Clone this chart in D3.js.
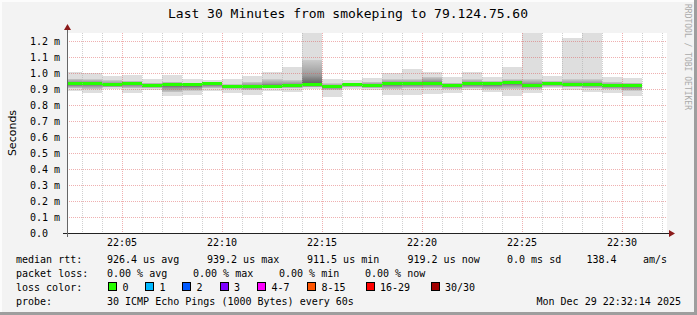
<!DOCTYPE html>
<html>
<head>
<meta charset="utf-8">
<script src="https://cdn.jsdelivr.net/npm/d3@7"></script>
<style>
body { margin: 0; background: #f3f3f3; }
svg text { font-family: "DejaVu Sans Mono", monospace; font-size: 10px; fill: #000; }
</style>
</head>
<body>
<svg id="chart"></svg>
<script>
/* global d3 */
// smokeping 30 min graph, one column per 60s step (end time of step)
const stepEnds = ["22:03","22:04","22:05","22:06","22:07","22:08","22:09","22:10","22:11","22:12",
                  "22:13","22:14","22:15","22:16","22:17","22:18","22:19","22:20","22:21","22:22",
                  "22:23","22:24","22:25","22:26","22:27","22:28","22:29","22:30","22:31"];
// ping rtt in ms
const rttMin = [0.890,0.873,0.900,0.877,0.894,0.854,0.860,0.885,0.875,0.860,0.885,0.880,0.898,0.852,0.900,
                0.892,0.860,0.860,0.867,0.873,0.892,0.879,0.854,0.873,0.904,0.892,0.879,0.873,0.854];
const rttLo  = [0.905,0.900,0.910,0.905,0.905,0.880,0.890,0.905,0.900,0.895,0.905,0.905,0.910,0.895,0.910,
                0.905,0.900,0.905,0.905,0.900,0.905,0.900,0.900,0.900,0.915,0.910,0.905,0.900,0.890];
const rttMedian = [0.930,0.933,0.922,0.933,0.920,0.927,0.923,0.931,0.913,0.912,0.914,0.920,0.922,0.9115,0.925,
                   0.921,0.931,0.931,0.933,0.919,0.930,0.930,0.9392,0.921,0.931,0.925,0.925,0.917,0.9192];
const rttHi  = [0.965,0.960,0.955,0.950,0.940,0.945,0.940,0.945,0.930,0.945,0.960,0.955,1.080,0.935,0.940,
                0.945,0.960,0.960,0.975,0.940,0.960,0.950,0.960,0.960,0.950,0.960,0.960,0.945,0.940];
const rttMax = [1.008,0.998,0.983,0.985,0.962,0.985,0.964,0.958,0.965,0.979,1.008,1.040,1.260,0.960,0.956,
                0.971,1.002,1.027,1.008,0.975,1.008,0.977,1.040,1.260,0.983,1.221,1.260,0.977,0.971];

const yTicks = [0,0.1,0.2,0.3,0.4,0.5,0.6,0.7,0.8,0.9,1.0,1.1,1.2];

const lossBins = ["0","1","2","3","4-7","8-15","16-29","30/30"];
const lossColors = ["#26ff00","#00b8ff","#0059ff","#7e00ff","#ff00ff","#ff5500","#ff0000","#a10000"];

const title = "Last 30 Minutes from smokeping to 79.124.75.60";
const rttStats = ["926.4 us avg","939.2 us max","911.5 us min","919.2 us now","0.0 ms sd","138.4","am/s"];
const lossStats = ["0.00 % avg","0.00 % max","0.00 % min","0.00 % now"];
const probeText = "30 ICMP Echo Pings (1000 Bytes) every 60s";
const stampText = "Mon Dec 29 22:32:14 2025";

const W = 697, H = 315;
const plot = {left: 67, right: 667, top: 33, bottom: 233};
const day = "2025-12-29T";
const parse = d3.timeParse("%Y-%m-%dT%H:%M:%S");

let svg = d3.select("#chart").attr("width", W).attr("height", H);

// frame
svg.append("rect").attr("width", W).attr("height", H).attr("fill", "#f3f3f3");
svg.append("rect").attr("x", 0).attr("y", 0).attr("width", W).attr("height", 2).attr("fill", "#fcfcfc");
svg.append("rect").attr("x", 0).attr("y", 0).attr("width", 2).attr("height", H).attr("fill", "#fcfcfc");
svg.append("rect").attr("x", W - 3).attr("y", 0).attr("width", 3).attr("height", H).attr("fill", "#9e9e9e");
svg.append("rect").attr("x", 0).attr("y", H - 3).attr("width", W).attr("height", 3).attr("fill", "#9e9e9e");

const x = d3.scaleTime()
    .domain([parse(day + "22:02:15"), parse(day + "22:32:15")])
    .range([plot.left, plot.right]);
const y = d3.scaleLinear().domain([0, 1.25]).range([plot.bottom, plot.top]);

svg.append("rect")
    .attr("x", plot.left).attr("y", plot.top)
    .attr("width", plot.right - plot.left).attr("height", plot.bottom - plot.top)
    .attr("fill", "#fff");

let defs = svg.append("defs");
defs.append("clipPath").attr("id", "clip").append("rect")
    .attr("x", plot.left).attr("y", plot.top)
    .attr("width", plot.right - plot.left).attr("height", plot.bottom - plot.top);
let gUp = defs.append("linearGradient").attr("id", "smokeUp").attr("x1", 0).attr("x2", 0).attr("y1", 0).attr("y2", 1);
gUp.append("stop").attr("offset", 0).attr("stop-color", "#cacaca");
gUp.append("stop").attr("offset", 0.6).attr("stop-color", "#9a9a9a");
gUp.append("stop").attr("offset", 1).attr("stop-color", "#555");
let gDn = defs.append("linearGradient").attr("id", "smokeDn").attr("x1", 0).attr("x2", 0).attr("y1", 0).attr("y2", 1);
gDn.append("stop").attr("offset", 0).attr("stop-color", "#555");
gDn.append("stop").attr("offset", 0.4).attr("stop-color", "#959595");
gDn.append("stop").attr("offset", 1).attr("stop-color", "#c8c8c8");

const cols = stepEnds.map((t, i) => {
    const end = parse(day + t + ":00");
    return {
        x0: Math.max(x(d3.timeMinute.offset(end, -1)), plot.left),
        x1: x(end),
        min: rttMin[i], lo: rttLo[i], med: rttMedian[i], hi: rttHi[i], max: rttMax[i]
    };
});

let smoke = svg.append("g").attr("clip-path", "url(#clip)").attr("shape-rendering", "crispEdges");
const band = (a, b, fill) => smoke.selectAll(null).data(cols).enter().append("rect")
    .attr("x", d => d.x0).attr("width", d => d.x1 - d.x0)
    .attr("y", d => y(b(d))).attr("height", d => y(a(d)) - y(b(d)))
    .attr("fill", fill);
band(d => d.min, d => d.max, "#dedede");
band(d => d.med, d => d.hi, "url(#smokeUp)");
band(d => d.lo, d => d.med, "url(#smokeDn)");
// median, coloured by loss (0 lost everywhere)
smoke.selectAll(null).data(cols).enter().append("rect")
    .attr("x", d => d.x0).attr("width", d => d.x1 - d.x0)
    .attr("y", d => Math.round(y(d.med)) - 2).attr("height", 3)
    .attr("fill", lossColors[0]);

// grid (on top of data like rrdtool)
let grid = svg.append("g").attr("shape-rendering", "crispEdges");
const minorTicks = x.ticks(d3.timeMinute.every(1));
grid.selectAll(null).data(minorTicks.filter(d => d.getMinutes() % 5 !== 0)).enter().append("line")
    .attr("x1", d => Math.round(x(d)) + 0.5).attr("x2", d => Math.round(x(d)) + 0.5)
    .attr("y1", plot.top).attr("y2", plot.bottom)
    .attr("stroke", "rgba(170,170,170,0.55)").attr("stroke-dasharray", "1,1");
const majorTicks = x.ticks(d3.timeMinute.every(5));
grid.selectAll(null).data(majorTicks).enter().append("line")
    .attr("x1", d => Math.round(x(d)) + 0.5).attr("x2", d => Math.round(x(d)) + 0.5)
    .attr("y1", plot.top).attr("y2", plot.bottom)
    .attr("stroke", "rgba(220,80,80,0.45)").attr("stroke-dasharray", "1,1");
grid.selectAll(null).data(yTicks.slice(1)).enter().append("line")
    .attr("x1", plot.left).attr("x2", plot.right)
    .attr("y1", d => Math.round(y(d)) + 0.5).attr("y2", d => Math.round(y(d)) + 0.5)
    .attr("stroke", "rgba(220,80,80,0.45)").attr("stroke-dasharray", "1,1");

// axes
let ax = svg.append("g").attr("shape-rendering", "crispEdges");
ax.append("line").attr("x1", plot.left - 4).attr("x2", plot.right + 5)
    .attr("y1", plot.bottom + 0.5).attr("y2", plot.bottom + 0.5).attr("stroke", "#222");
ax.append("line").attr("x1", plot.left + 0.5).attr("x2", plot.left + 0.5)
    .attr("y1", plot.bottom + 4).attr("y2", plot.top - 5).attr("stroke", "#666");
svg.append("path").attr("d", `M${plot.right + 2},${plot.bottom - 3} L${plot.right + 8},${plot.bottom + 0.5} L${plot.right + 2},${plot.bottom + 4} Z`)
    .attr("fill", "#8b1a1a");
svg.append("path").attr("d", `M${plot.left - 3},${plot.top - 3} L${plot.left + 0.5},${plot.top - 9} L${plot.left + 4},${plot.top - 3} Z`)
    .attr("fill", "#8b1a1a");

svg.selectAll(null).data(majorTicks).enter().append("text")
    .attr("x", d => x(d)).attr("y", 246).attr("text-anchor", "middle")
    .text(d3.timeFormat("%H:%M"));
svg.selectAll(null).data(yTicks).enter().append("text")
    .attr("x", 30).attr("y", d => y(d) + 3.5)
    .text(d => d === 0 ? "0.0" : d3.format(".1f")(d) + " m");

svg.append("text").attr("transform", "translate(16,133) rotate(-90)")
    .attr("text-anchor", "middle")
    .style("font-family", "'DejaVu Sans', sans-serif").style("font-size", "11px")
    .text("Seconds");

svg.append("text").attr("x", 348).attr("y", 18).attr("text-anchor", "middle")
    .style("font-size", "13px").text(title);

svg.append("text").attr("transform", "translate(685,4) rotate(90)")
    .style("font-size", "8px").style("fill", "#aaa")
    .text("RRDTOOL / TOBI OETIKER");

// legend
const row1 = 263, row2 = 277, row3 = 291, row4 = 305;
svg.append("text").attr("x", 16).attr("y", row1).text("median rtt:");
const rttX = [107, 207, 307, 407.5, 507, 586.5, 643];
rttStats.forEach((s, i) => svg.append("text").attr("x", rttX[i]).attr("y", row1).text(s));

svg.append("text").attr("x", 16).attr("y", row2).text("packet loss:");
const lossX = [107, 193, 279, 365];
lossStats.forEach((s, i) => svg.append("text").attr("x", lossX[i]).attr("y", row2).text(s));

svg.append("text").attr("x", 16).attr("y", row3).text("loss color:");
const boxX = [108, 145, 182, 219.5, 257, 307, 365.5, 430.5];
lossBins.forEach((s, i) => {
    svg.append("rect").attr("x", boxX[i] + 0.5).attr("y", row3 - 8.5).attr("width", 8).attr("height", 8)
        .attr("fill", lossColors[i]).attr("stroke", "#000").attr("shape-rendering", "crispEdges");
    svg.append("text").attr("x", boxX[i] + 14.5).attr("y", row3).text(s);
});

svg.append("text").attr("x", 16).attr("y", row4).text("probe:");
svg.append("text").attr("x", 107).attr("y", row4).text(probeText);
svg.append("text").attr("x", 681).attr("y", row4).attr("text-anchor", "end").text(stampText);
</script>
</body>
</html>
